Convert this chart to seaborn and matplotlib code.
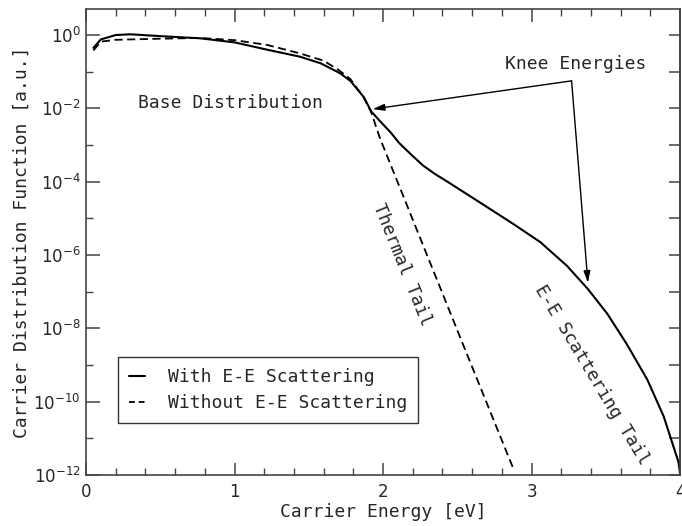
import numpy as np
import pandas as pd
import matplotlib
matplotlib.use("Agg")
import matplotlib.pyplot as plt
from matplotlib.lines import Line2D
from matplotlib.ticker import FixedLocator, NullFormatter
import seaborn as sns

# Carrier energy (eV) and log10 of the distribution, with e-e scattering
energy_ee = [0.05, 0.10, 0.20, 0.30, 0.50, 0.77, 1.00, 1.22, 1.44, 1.58, 1.71, 1.78,
             1.87, 1.92, 1.98, 2.05, 2.11, 2.20, 2.27, 2.35, 2.43, 2.65, 2.88, 3.06,
             3.24, 3.38, 3.51, 3.64, 3.78, 3.89, 3.99, 4.00]
logf_ee = [-0.35, -0.12, 0.00, 0.02, -0.03, -0.09, -0.20, -0.40, -0.59, -0.77, -1.04, -1.25,
           -1.69, -2.08, -2.35, -2.65, -2.95, -3.30, -3.56, -3.79, -3.99, -4.56, -5.16, -5.65,
           -6.30, -6.93, -7.60, -8.42, -9.40, -10.40, -11.65, -11.95]

# Without e-e scattering (thermal tail)
energy_th = [0.05, 0.10, 0.20, 0.30, 0.50, 0.77, 1.00, 1.22, 1.44, 1.60, 1.70, 1.78,
             1.87, 1.92, 1.98, 2.54, 2.88]
logf_th = [-0.42, -0.18, -0.13, -0.12, -0.10, -0.08, -0.14, -0.27, -0.50, -0.70, -0.95, -1.20,
           -1.70, -2.10, -2.82, -8.45, -11.85]

labels = ["With E-E Scattering", "Without E-E Scattering"]
ytick_exps = [0, -2, -4, -6, -8, -10, -12]
xtick_vals = [0, 1, 2, 3, 4]

df = pd.concat([
    pd.DataFrame({"E": energy_ee, "f": np.power(10.0, logf_ee), "case": labels[0]}),
    pd.DataFrame({"E": energy_th, "f": np.power(10.0, logf_th), "case": labels[1]}),
])

sns.set_style("ticks")
mono = "DejaVu Sans Mono"
plt.rcParams["font.family"] = ["DejaVu Sans"]
plt.rcParams["mathtext.fontset"] = "dejavusans"

fig = plt.figure(figsize=(6.82, 5.26), dpi=100)
ax = fig.add_axes([86 / 682, 1 - 475 / 526, (680 - 86) / 682, (475 - 9) / 526])

sns.lineplot(data=df[df.case == labels[0]], x="E", y="f", ax=ax, color="black",
             lw=1.5, sort=False, estimator=None)
sns.lineplot(data=df[df.case == labels[1]], x="E", y="f", ax=ax, color="black",
             lw=1.3, sort=False, estimator=None, linestyle=(0, (4.5, 2.5)))

ax.set_yscale("log")
ax.set_xlim(0, 4)
ax.set_ylim(1e-12, 10 ** 0.71)

spine_col = "#444444"
for s in ax.spines.values():
    s.set_color(spine_col)
    s.set_linewidth(1.2)

ax.yaxis.set_major_locator(FixedLocator([10.0 ** e for e in ytick_exps]))
ax.set_yticklabels([r"$10^{%d}$" % e for e in ytick_exps])
ax.yaxis.set_minor_locator(FixedLocator([10.0 ** e for e in range(-11, 0, 2)]))
ax.yaxis.set_minor_formatter(NullFormatter())
ax.xaxis.set_major_locator(FixedLocator(xtick_vals))
ax.set_xticklabels([str(v) for v in xtick_vals])
ax.xaxis.set_minor_locator(FixedLocator(np.arange(0.2, 4.0, 0.2)))

ax.tick_params(axis="x", which="major", direction="in", length=9, width=1.1,
               color=spine_col, top=True, bottom=True, labelsize=12, pad=6)
ax.tick_params(axis="x", which="minor", direction="in", length=5, width=1.0,
               color=spine_col, top=True, bottom=True)
ax.tick_params(axis="y", which="major", direction="in", length=10, width=1.1,
               color=spine_col, left=True, right=False, labelsize=12, pad=4)
ax.tick_params(axis="y", which="minor", direction="in", length=5, width=1.0,
               color=spine_col, left=True, right=False)

# right-hand ticks at every decade
sec = ax.secondary_yaxis("right")
sec.set_yscale("log")
sec.yaxis.set_major_locator(FixedLocator([10.0 ** e for e in range(-12, 1)]))
sec.yaxis.set_minor_locator(FixedLocator([]))
sec.tick_params(direction="in", length=8, width=1.1, color=spine_col, labelright=False)
sec.spines["right"].set_color(spine_col)
sec.spines["right"].set_linewidth(1.2)

ax.set_xlabel("Carrier Energy [eV]", fontfamily=mono, fontsize=13, labelpad=1)
ax.set_ylabel("Carrier Distribution Function [a.u.]", fontfamily=mono, fontsize=13, labelpad=2)

# annotations
ax.text(0.35, 10 ** -1.85, "Base Distribution", fontfamily=mono, fontsize=13,
        ha="left", va="center")
ax.text(3.30, 10 ** -0.79, "Knee Energies", fontfamily=mono, fontsize=13,
        ha="center", va="center")
arrow = dict(arrowstyle="-|>,head_length=0.7,head_width=0.2", color="black", lw=1.0,
             shrinkA=0, shrinkB=0)
src = (3.27, 10 ** -1.25)
ax.annotate("", xy=(1.93, 10 ** -2.02), xytext=src, arrowprops=arrow)
ax.annotate("", xy=(3.38, 10 ** -6.76), xytext=src, arrowprops=arrow)
ax.text(2.13, 10 ** -6.27, "Thermal Tail", fontfamily=mono, fontsize=13,
        rotation=-68, ha="center", va="center", rotation_mode="anchor")
ax.text(3.41, 10 ** -9.26, "E-E Scattering Tail", fontfamily=mono, fontsize=13,
        rotation=-59, ha="center", va="center", rotation_mode="anchor")

handles = [Line2D([], [], color="black", lw=1.5),
           Line2D([], [], color="black", lw=1.3, linestyle=(0, (3.2, 2.2)))]
leg = ax.legend(handles, labels, loc="lower left", bbox_to_anchor=(0.054, 0.112),
                borderaxespad=0, frameon=True, fancybox=False, handlelength=0.9,
                handletextpad=1.25, labelspacing=0.45, borderpad=0.6,
                prop={"family": mono, "size": 13})
leg.get_frame().set_edgecolor("#333333")
leg.get_frame().set_linewidth(1.0)
leg.get_frame().set_alpha(1)

fig.savefig("out.png", dpi=100)
